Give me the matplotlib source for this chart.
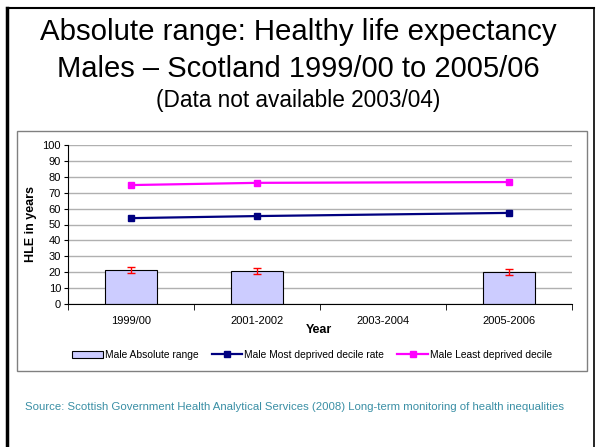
import matplotlib
matplotlib.use("Agg")
import matplotlib.pyplot as plt
import numpy as np
from matplotlib.lines import Line2D
from matplotlib.patches import Rectangle

plt.rcParams['font.family'] = ['Liberation Sans', 'DejaVu Sans']

# data
years = ['1999/00', '2001-2002', '2003-2004', '2005-2006']
absolute_range = [21.2, 20.8, np.nan, 20.0]
range_err = [2.0, 1.9, 0.0, 2.0]
most_deprived = [54.0, 55.3, np.nan, 57.3]
least_deprived = [74.8, 76.2, np.nan, 76.7]

W, H = 596, 447
fig = plt.figure(figsize=(W / 100, H / 100), dpi=100)


def fx(px):
    return px / W


def fy(py):
    return 1 - py / H


# slide border (top, left, right)
fig.add_artist(Line2D([fx(7), fx(594)], [fy(8), fy(8)], color='black', lw=1.5))
fig.add_artist(Line2D([fx(7.5), fx(7.5)], [fy(8), fy(447)], color='black', lw=2.5))
fig.add_artist(Line2D([fx(594), fx(594)], [fy(8), fy(447)], color='black', lw=1.2))

# chart box
fig.add_artist(Rectangle((fx(17), fy(371)), fx(587) - fx(17), fy(131) - fy(371),
                         fill=False, edgecolor='#808080', lw=1))

# titles
fig.text(0.5, fy(32), 'Absolute range: Healthy life expectancy', ha='center', va='center', fontsize=21.2)
fig.text(0.5, fy(69), 'Males \u2013 Scotland 1999/00 to 2005/06', ha='center', va='center', fontsize=21)
fig.text(0.5, fy(100), '(Data not available 2003/04)', ha='center', va='center', fontsize=16.3)

ax = fig.add_axes([fx(68), fy(304), fx(572) - fx(68), fy(145) - fy(304)])
x = np.arange(len(years))

bars = ax.bar(x, absolute_range, width=0.41, color='#CCCCFF', edgecolor='black', lw=0.8,
              zorder=2)
ax.errorbar(x, absolute_range, yerr=range_err, fmt='none', ecolor='#FF0000', elinewidth=1,
            capsize=3, capthick=1, zorder=3)
# connect across the missing year
line_handles = []
for s, c in [(most_deprived, '#000080'), (least_deprived, '#FF00FF')]:
    xs = [i for i in x if not np.isnan(s[i])]
    h, = ax.plot(xs, [s[i] for i in xs], color=c, lw=1.6, marker='s', ms=4.5, zorder=4)
    line_handles.append(h)

ax.set_xlim(-0.5, 3.5)
ax.set_ylim(0, 100)
ax.set_yticks(np.arange(0, 101, 10))
ax.set_xticks(x)
ax.set_xticklabels(years)
ax.set_xticks(np.arange(-0.5, 3.6, 1), minor=True)
ax.tick_params(axis='x', which='major', length=0, labelsize=8, pad=9)
ax.tick_params(axis='x', which='minor', length=4, direction='out')
ax.tick_params(axis='y', length=3, labelsize=8, pad=2)
ax.yaxis.grid(True, color='#B0B0B0', lw=1)
ax.set_axisbelow(True)
for sp in ['top', 'right']:
    ax.spines[sp].set_visible(False)
ax.spines['left'].set_linewidth(0.8)
ax.spines['bottom'].set_linewidth(0.8)
ax.set_ylabel('HLE in years', fontsize=9, fontweight='bold', labelpad=4)
fig.text(fx(319), fy(330), 'Year', ha='center', va='center', fontsize=9, fontweight='bold')

fig.legend([bars] + line_handles,
           ['Male Absolute range', 'Male Most deprived decile rate', 'Male Least deprived decile'],
           loc='center', bbox_to_anchor=(fx(312), fy(355)), ncol=3,
           frameon=False, fontsize=7.4, handlelength=3.0, handletextpad=0.15, columnspacing=1.3)

fig.text(fx(25), fy(407), 'Source: Scottish Government Health Analytical Services (2008) '
         'Long-term monitoring of health inequalities', ha='left', va='center',
         fontsize=8.2, color='#3A8FA5')

fig.savefig('out.png', dpi=100)
